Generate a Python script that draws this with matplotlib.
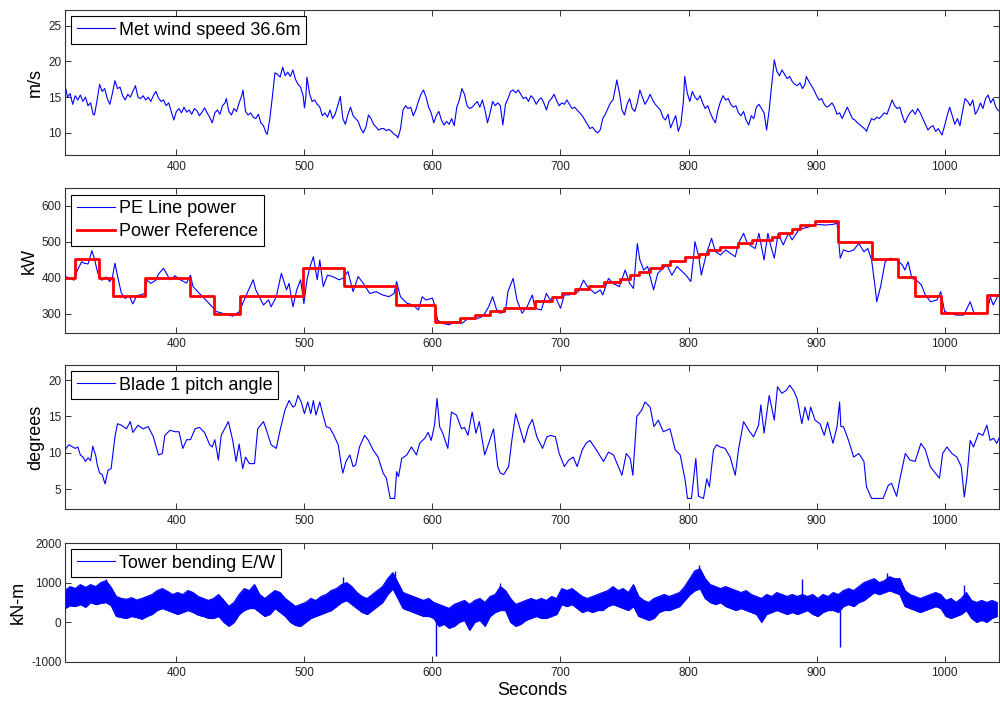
import numpy as np
import matplotlib
matplotlib.use('Agg')
from matplotlib import pyplot as plt

plt.rcParams['font.family'] = ['Liberation Sans', 'DejaVu Sans']
plt.rcParams['axes.unicode_minus'] = False

# Met wind speed at 36.6 m (m/s)
wind_t = [313, 315, 317, 319, 321, 323, 325, 327, 329, 331, 333, 335, 336, 338, 340, 342, 344, 346, 348, 350,
          352, 354, 356, 358, 360, 362, 364, 366, 368, 370, 372, 374, 376, 378, 380, 382, 384, 386, 388, 390,
          392, 394, 396, 398, 400, 402, 404, 406, 408, 410, 412, 414, 416, 418, 420, 422, 424, 426, 428, 430,
          432, 434, 436, 438, 439, 441, 443, 445, 447, 449, 451, 452, 454, 456, 458, 460, 462, 464, 466, 468,
          470, 471, 473, 475, 477, 479, 481, 483, 485, 487, 489, 491, 493, 495, 497, 499, 500, 501, 502, 504,
          506, 508, 510, 512, 514, 516, 518, 520, 522, 524, 526, 528, 530, 532, 534, 536, 538, 540, 542, 544,
          546, 548, 550, 552, 554, 556, 558, 560, 562, 564, 566, 568, 570, 572, 573, 575, 577, 579, 581, 583,
          585, 587, 589, 591, 593, 595, 597, 599, 601, 603, 605, 607, 609, 611, 613, 615, 617, 619, 621, 623,
          625, 627, 629, 631, 633, 635, 637, 639, 641, 643, 645, 647, 649, 651, 653, 655, 657, 659, 661, 663,
          665, 667, 669, 671, 673, 675, 677, 679, 681, 683, 685, 687, 689, 691, 693, 695, 697, 699, 701, 703,
          705, 707, 709, 711, 713, 715, 717, 719, 721, 723, 725, 727, 729, 731, 733, 735, 737, 739, 741, 743,
          744, 746, 748, 750, 752, 754, 756, 758, 760, 762, 764, 766, 768, 770, 772, 774, 776, 778, 780, 782,
          784, 786, 788, 790, 792, 794, 796, 797, 799, 801, 803, 805, 807, 809, 811, 813, 815, 817, 819, 821,
          823, 825, 827, 829, 831, 833, 835, 837, 839, 841, 843, 845, 847, 849, 851, 853, 855, 857, 859, 861,
          863, 865, 867, 869, 871, 873, 875, 877, 879, 881, 883, 885, 887, 889, 891, 892, 894, 896, 898, 900,
          902, 904, 906, 908, 910, 912, 914, 916, 918, 920, 922, 924, 926, 928, 930, 932, 934, 936, 938, 939,
          941, 943, 945, 947, 949, 951, 953, 955, 957, 959, 961, 963, 965, 967, 969, 971, 973, 975, 977, 979,
          981, 983, 985, 987, 989, 991, 993, 995, 997, 998, 1000, 1002, 1004, 1006, 1008, 1010, 1012, 1014, 1016, 1018,
          1020, 1022, 1024, 1026, 1028, 1030, 1032, 1034, 1036, 1038, 1040, 1042]
wind_v = [16.7, 15.0, 15.5, 14.0, 15.2, 14.6, 15.3, 14.4, 15.0, 13.8, 14.2, 12.6, 12.5, 14.5, 16.8, 15.8, 16.2, 14.8, 14.0, 15.5,
          17.3, 16.2, 16.4, 15.2, 14.6, 15.4, 15.0, 15.8, 16.6, 15.0, 14.8, 15.2, 14.6, 15.0, 14.4, 15.2, 15.8, 14.9, 14.4, 14.6,
          13.8, 14.2, 13.0, 11.8, 13.0, 13.4, 12.8, 13.6, 12.9, 13.2, 12.6, 13.4, 13.1, 12.4, 12.9, 13.5, 12.8, 12.2, 11.4, 12.8,
          13.2, 12.6, 13.8, 14.2, 14.8, 13.0, 12.5, 13.4, 13.0, 14.2, 15.2, 16.0, 13.0, 12.5, 12.8, 12.2, 12.0, 12.6, 11.4, 11.0,
          10.0, 9.8, 12.0, 15.1, 18.4, 18.2, 17.8, 19.2, 18.0, 18.5, 17.9, 18.8, 17.5, 16.8, 16.4, 15.2, 13.5, 14.8, 17.8, 15.5,
          14.4, 14.6, 14.0, 13.6, 12.4, 12.8, 12.2, 13.2, 12.0, 12.6, 13.8, 15.1, 12.0, 11.2, 12.6, 13.6, 12.4, 12.0, 11.6, 10.6,
          10.0, 10.8, 12.5, 12.0, 11.2, 10.8, 10.4, 10.6, 10.6, 10.3, 10.5, 10.2, 9.8, 9.6, 9.3, 10.5, 13.2, 13.8, 13.4, 13.6,
          12.4, 13.2, 14.4, 15.4, 16.0, 15.0, 13.6, 12.8, 11.4, 12.4, 13.0, 11.8, 11.1, 11.6, 11.2, 12.0, 11.0, 13.6, 14.6, 16.2,
          15.4, 13.8, 13.4, 13.6, 14.0, 14.4, 13.6, 14.6, 13.2, 11.4, 12.8, 14.4, 13.8, 14.2, 13.8, 11.1, 14.0, 14.8, 15.8, 16.0,
          15.6, 16.0, 15.4, 14.8, 15.0, 14.4, 15.2, 14.8, 14.0, 14.6, 14.9, 14.2, 13.2, 14.4, 14.8, 15.4, 14.5, 13.8, 14.2, 14.0,
          14.6, 14.0, 13.4, 13.6, 13.2, 12.8, 12.4, 11.8, 11.2, 10.6, 10.8, 10.3, 10.0, 10.4, 12.0, 12.6, 13.4, 14.2, 14.6, 16.4,
          17.4, 15.6, 13.2, 12.5, 14.0, 14.8, 13.4, 13.0, 14.2, 16.0, 15.0, 14.0, 14.6, 15.4, 14.6, 14.0, 13.6, 13.2, 12.2, 11.8,
          12.6, 10.7, 11.6, 12.4, 10.2, 11.2, 14.4, 17.9, 15.6, 14.4, 15.8, 15.0, 14.6, 15.2, 14.2, 13.4, 13.8, 12.8, 12.0, 11.4,
          13.2, 14.4, 15.2, 14.6, 14.8, 14.0, 13.6, 13.8, 12.8, 12.4, 13.0, 11.8, 11.1, 12.4, 12.0, 13.6, 14.0, 13.4, 12.8, 10.4,
          13.2, 16.8, 20.2, 18.6, 18.0, 18.8, 18.2, 17.6, 17.9, 17.2, 16.8, 16.6, 17.0, 16.2, 16.8, 17.9, 17.2, 16.6, 16.0, 15.2,
          14.6, 14.8, 14.0, 13.6, 13.8, 14.2, 13.6, 12.6, 12.8, 12.0, 12.8, 13.6, 12.8, 12.0, 11.8, 11.4, 11.1, 10.8, 10.5, 10.2,
          11.2, 12.0, 11.8, 12.2, 12.0, 12.4, 12.8, 12.6, 13.6, 14.6, 13.8, 13.4, 13.6, 12.4, 11.4, 12.2, 12.8, 13.2, 12.6, 13.4,
          12.8, 12.0, 11.2, 10.4, 10.8, 11.0, 10.2, 10.6, 10.0, 9.7, 11.0, 12.4, 13.6, 12.4, 11.2, 12.0, 11.0, 13.0, 14.8, 14.4,
          13.8, 14.6, 12.6, 13.2, 14.2, 13.4, 14.8, 15.3, 14.2, 14.8, 13.6, 13.1]

# PE line power (kW)
pe_t = [313, 316, 320, 322, 324, 326, 328, 331, 334, 336, 338, 340, 342, 345, 348, 350, 352, 354, 357, 360,
        363, 366, 369, 372, 375, 377, 380, 384, 386, 390, 393, 395, 399, 403, 408, 411, 413, 418, 423, 429,
        431, 436, 444, 449, 454, 460, 462, 468, 472, 474, 478, 482, 486, 488, 491, 494, 497, 499.6, 502, 504,
        507, 510, 512, 514.7, 518, 522, 527, 530, 534, 538, 542, 546, 551, 556, 561, 566, 570, 572, 575, 580,
        585, 589, 592, 595, 600, 602, 604, 608, 613, 618, 623, 628, 633, 638, 641, 644, 647, 650, 653, 657,
        659, 663, 666, 670, 674, 678, 680, 685, 689, 692, 696, 700, 703, 707, 710, 714, 718, 721, 727, 731,
        733, 737.5, 741, 746, 750.5, 754, 757, 760, 762, 765, 768, 772.7, 776, 780, 783, 787, 791, 795, 798, 801.8,
        804, 805, 808, 810, 814, 818, 821, 825, 829, 836.5, 839, 843, 846, 852, 855, 859, 862, 864, 867, 870,
        874, 878, 881, 886, 890, 895, 900, 907, 913, 916, 918.5, 921, 925, 929, 933, 937, 940, 943, 946, 947,
        950, 953.6, 957.6, 963, 967, 969, 971.5, 974.5, 978, 982, 984.9, 989, 994, 997, 1000, 1004, 1009, 1015, 1020, 1023,
        1028, 1033, 1035.7, 1038, 1042]
pe_v = [403, 400, 393, 415, 430, 444, 440, 438, 475, 452, 421, 398, 393, 402, 389, 400, 440, 405, 357, 342,
        350, 327, 350, 352, 356, 393, 384, 393, 410, 426, 407, 394, 405, 394, 385, 407, 375, 356, 338, 315,
        306, 301, 293, 305, 347, 394, 366, 324, 338, 319, 347, 412, 366, 384, 319, 366, 394, 328, 394, 426,
        458, 394, 449, 375, 407, 403, 394, 398, 417, 361, 403, 384, 356, 361, 352, 347, 356, 389, 347, 329,
        324, 310, 347, 338, 343, 320, 282, 273, 269, 278, 273, 287, 285, 290, 301, 320, 347, 312, 301, 306,
        362, 398, 338, 301, 320, 352, 315, 310, 356, 338, 347, 315, 352, 352, 356, 361, 393, 375, 356, 366,
        352, 398, 384, 375, 421, 384, 370, 495, 449, 421, 431, 366, 412, 426, 435, 407, 431, 417, 407, 389,
        458, 500, 458, 407, 467, 509, 472, 463, 477, 458, 495, 523, 495, 481, 523, 449, 523, 491, 454, 523,
        491, 523, 505, 532, 537, 542, 548, 546, 548, 551, 454, 477, 472, 477, 495, 472, 481, 449, 366, 333,
        375, 444, 454, 449, 435, 421, 444, 398, 393, 379, 352, 333, 338, 361, 306, 301, 296, 296, 333, 301,
        301, 301, 347, 324, 352]

# Power reference steps (start time of each step, level in kW)
ref_t = [313, 321, 339.7, 350.3, 375.5, 411, 429.6, 449.7, 498.6, 531, 571.4, 602.3, 621.3, 633, 645, 655.5,
         680, 693, 701, 711.5, 722, 733.6, 746.6, 754.4, 761, 770, 779, 785.7, 797.4, 807.8, 815.6, 824.7,
         839, 849.5, 865, 870.3, 880.7, 887.2, 899, 916.4, 943.2, 964, 977, 997, 1033, 1043]
ref_v = [400, 452, 400, 350, 400, 350, 300, 350, 426, 376, 325, 278, 287, 297, 306, 316,
         335, 345, 356, 368, 377, 387, 396, 406, 415, 426, 435, 447, 456, 466, 477, 486,
         497, 505, 514, 525, 535, 546, 556, 500, 452, 401, 350, 301, 352, 352]

# Blade 1 pitch angle (degrees)
pitch_t = [313, 316, 318, 321, 323, 325, 327, 329, 331, 333, 334.7, 337, 338, 340, 342, 344.3, 346.6, 349, 352, 354,
           357, 361, 364, 366, 370, 374, 378, 382, 386, 389, 391, 395, 399, 402, 405, 408, 411, 414.6, 418, 422,
           426, 428, 430, 432.8, 435, 440.6, 444, 446.6, 449, 451.8, 454, 457, 461, 463.5, 468, 470, 474, 478, 481, 484.8,
           488, 491, 492.7, 495, 497.5, 500, 502.6, 505, 507, 509, 512, 514.5, 517, 520, 523, 526.4, 529, 530, 532.5, 535.5,
           538, 540, 543, 547, 550, 553.6, 557.5, 561.5, 564, 567, 570.5, 572, 573.5, 576, 580, 583.6, 587.5, 590, 594, 596.7,
           599, 601.6, 603.6, 605.6, 608, 612, 614.8, 618.7, 622.7, 625, 627.7, 631, 634, 636.6, 640.8, 644.7, 647.7, 651, 653, 655.6,
           659.5, 662, 665, 668, 671.6, 675, 678, 681.5, 686, 689.4, 692.5, 696, 699, 703, 706.5, 710, 713, 717, 720, 723,
           728, 733.6, 737.5, 741.4, 748, 751.4, 754.5, 756.5, 759.6, 763.5, 766, 770, 773, 776.4, 780.3, 785.5, 789.6, 793.5, 797.4, 799.2,
           802.3, 805.7, 807.8, 811.7, 814.3, 816.3, 819.5, 822, 824.7, 828.6, 832.5, 836.5, 839, 843, 847, 850.8, 854.7, 856.5, 859, 863,
           867, 869.5, 872.9, 876.3, 879, 882, 884.9, 888.5, 891, 893.6, 895.4, 898.8, 902.7, 906, 908.6, 912.8, 916, 918, 919, 921,
           925, 929, 933, 937, 939, 943, 952, 956, 958.6, 962.5, 965, 969.3, 973, 977, 981.5, 985, 988.8, 992.7, 996, 998.5,
           1001.8, 1005.7, 1009.6, 1013, 1015.4, 1017.5, 1020, 1022.6, 1026.5, 1029.9, 1033, 1035.6, 1038.2, 1040.8, 1043]
pitch_v = [10.4, 11.1, 10.9, 10.6, 10.8, 9.7, 9.4, 8.8, 9.3, 8.9, 10.9, 9.6, 8.5, 7.2, 7.0, 5.7, 7.6, 7.8, 12.2, 14.0,
           13.8, 13.3, 14.3, 12.8, 13.8, 13.3, 13.6, 12.2, 9.7, 9.9, 12.4, 13.1, 12.9, 12.9, 10.6, 11.8, 11.8, 13.3, 13.5, 12.8,
           11.1, 10.8, 11.8, 9.0, 12.4, 14.3, 11.7, 8.8, 11.2, 7.8, 9.4, 8.5, 8.5, 13.3, 14.3, 13.3, 11.1, 10.6, 13.1, 15.9,
           17.2, 16.3, 16.5, 17.9, 17.0, 15.4, 17.0, 15.4, 17.2, 15.2, 17.0, 15.2, 13.6, 13.4, 12.4, 11.1, 8.1, 7.2, 8.8, 9.7,
           8.1, 8.3, 10.8, 12.4, 11.7, 10.4, 9.4, 7.2, 6.5, 3.7, 3.7, 7.4, 6.7, 9.2, 9.7, 10.8, 9.7, 11.3, 12.0, 12.8,
           11.7, 13.8, 17.5, 13.6, 12.7, 10.6, 15.6, 15.2, 13.3, 13.5, 12.4, 15.6, 12.7, 14.3, 9.7, 11.7, 13.3, 8.1, 7.2, 7.0,
           8.1, 11.7, 15.4, 13.6, 11.4, 13.6, 14.6, 12.2, 10.6, 12.2, 12.4, 12.2, 9.9, 8.1, 9.0, 9.4, 8.1, 10.4, 11.3, 11.7,
           10.4, 8.8, 10.1, 9.7, 6.9, 9.9, 9.2, 6.9, 15.0, 15.9, 17.0, 16.3, 13.6, 14.5, 12.9, 13.3, 10.4, 9.7, 6.2, 3.7,
           3.7, 9.2, 4.0, 3.7, 6.4, 5.3, 10.4, 11.1, 10.8, 10.6, 9.4, 6.9, 10.4, 14.3, 13.1, 12.2, 13.8, 16.6, 12.7, 17.9,
           14.5, 19.1, 18.2, 18.6, 19.3, 18.6, 17.4, 14.0, 16.3, 14.5, 16.3, 14.5, 14.0, 12.4, 14.2, 11.3, 13.6, 17.0, 13.6, 13.6,
           11.7, 9.4, 9.9, 8.8, 5.3, 3.7, 3.7, 5.5, 5.8, 4.0, 6.3, 9.9, 9.0, 8.8, 11.3, 10.4, 8.1, 7.2, 6.5, 9.9,
           10.8, 9.9, 9.4, 8.1, 3.9, 6.7, 11.7, 10.8, 12.7, 12.4, 13.8, 11.7, 12.0, 11.3, 12.2]

# Tower bending E/W (kN-m): upper and lower edge of the noisy band, every 4 s from 313 s
tower_hi = [800, 900, 850, 950, 880, 950, 900, 1000, 1050, 880, 650, 600, 580, 620, 560, 600, 650, 700, 800, 850,
            780, 700, 750, 700, 800, 750, 650, 600, 550, 600, 700, 550, 400, 500, 700, 850, 800, 950, 700, 600,
            700, 800, 750, 600, 500, 400, 450, 500, 600, 550, 650, 700, 800, 850, 950, 1000, 900, 750, 650, 600,
            700, 800, 900, 1100, 1250, 1000, 750, 700, 650, 600, 550, 600, 500, 450, 400, 350, 450, 500, 550, 450,
            550, 600, 500, 650, 700, 900, 800, 600, 450, 500, 550, 600, 550, 600, 550, 650, 600, 850, 800, 850,
            750, 650, 600, 650, 700, 750, 800, 900, 800, 850, 750, 950, 650, 550, 500, 600, 650, 700, 650, 700,
            750, 900, 1100, 1300, 1350, 1100, 950, 900, 850, 900, 850, 800, 750, 800, 700, 650, 600, 700, 650, 750,
            700, 650, 700, 650, 700, 650, 700, 600, 700, 650, 750, 700, 800, 850, 800, 900, 1000, 1050, 1100, 1000,
            1050, 1150, 1100, 1100, 800, 700, 650, 600, 650, 700, 750, 700, 550, 600, 500, 600, 750, 550, 500, 550,
            500, 550, 500]
tower_lo = [350, 420, 400, 450, 380, 500, 450, 480, 500, 420, 150, 120, 100, 150, 120, 80, 150, 200, 300, 350,
            300, 250, 200, 250, 300, 250, 180, 150, 100, 100, 150, 0, -100, 0, 200, 300, 350, 350, 250, 150,
            200, 350, 250, 150, 0, -80, -100, 0, 100, 150, 200, 250, 300, 400, 500, 550, 450, 350, 250, 200,
            300, 400, 500, 700, 850, 600, 350, 300, 250, 200, 150, 150, 100, -100, -50, -150, -100, 0, 50, -200,
            0, 50, -100, 150, 250, 300, 300, 0, -100, -50, 50, 100, 150, 100, 100, 150, 200, 450, 400, 450,
            350, 250, 300, 250, 300, 300, 400, 450, 400, 350, 300, 400, 150, 100, 50, 100, 250, 300, 300, 350,
            400, 550, 700, 800, 850, 600, 500, 450, 500, 400, 350, 300, 350, 300, 250, 200, 0, 200, 250, 300,
            250, 200, 250, 200, 250, 300, 200, 150, 250, 300, 300, 250, 400, 450, 400, 500, 550, 650, 750, 700,
            750, 800, 750, 700, 400, 350, 300, 250, 300, 350, 400, 350, 150, 100, 150, 200, 300, 100, 0, 50,
            0, 100, 150]
# isolated spikes: time, band level, spike tip
spike_t = [345, 530, 571, 603, 653, 808, 889, 918, 955, 1015]
spike_base = [700, 700, 1000, 200, 500, 1000, 400, 300, 900, 300]
spike_tip = [1080, 1150, 1300, -850, 1000, 1450, 1100, -640, 1250, 950]

xmin, xmax = 313, 1042.5
blue = '#0000ff'
red = '#ff0000'
edge = '#333333'

fig = plt.figure(figsize=(10, 7.03), dpi=100)
positions = [[0.065, 0.7795, 0.934, 0.2063],
             [0.065, 0.5267, 0.934, 0.2054],
             [0.065, 0.2755, 0.934, 0.2053],
             [0.065, 0.0587, 0.934, 0.1688]]
axes = [fig.add_axes(p) for p in positions]


def style(ax, ylim, yticks, ylabel):
    ax.set_xlim(xmin, xmax)
    ax.set_ylim(*ylim)
    ax.set_xticks([400, 500, 600, 700, 800, 900, 1000])
    ax.set_yticks(yticks)
    ax.tick_params(direction='in', top=True, right=True, length=4, width=0.7,
                   colors=edge, labelcolor='#222222', labelsize=8.5)
    ax.tick_params(axis='x', pad=4)
    ax.tick_params(axis='y', pad=2.5)
    for s in ax.spines.values():
        s.set_color(edge)
        s.set_linewidth(0.8)
    ax.set_ylabel(ylabel, fontsize=13, labelpad=3)


def legend(ax):
    leg = ax.legend(loc='upper left', fontsize=13, fancybox=False, framealpha=1,
                    edgecolor='black', borderpad=0.3, borderaxespad=0.35,
                    handlelength=2.1, handletextpad=0.25, labelspacing=0.35)
    leg.get_frame().set_linewidth(0.8)


ax = axes[0]
ax.plot(wind_t, wind_v, color=blue, lw=0.8, label='Met wind speed 36.6m')
style(ax, (6.9, 27.2), [10, 15, 20, 25], 'm/s')
legend(ax)

ax = axes[1]
ax.plot(pe_t, pe_v, color=blue, lw=0.8, label='PE Line power')
ax.step(ref_t, ref_v, where='post', color=red, lw=2.0, label='Power Reference')
style(ax, (247, 648), [300, 400, 500, 600], 'kW')
legend(ax)

ax = axes[2]
ax.plot(pitch_t, pitch_v, color=blue, lw=0.8, label='Blade 1 pitch angle')
style(ax, (2.2, 22.1), [5, 10, 15, 20], 'degrees')
legend(ax)

ax = axes[3]
tower_t = np.arange(313, 313 + 4 * len(tower_hi), 4)
ax.fill_between(tower_t, tower_lo, tower_hi, color=blue, lw=0.5, edgecolor=blue)
ax.plot(tower_t, tower_hi, color=blue, lw=0.8, label='Tower bending E/W')
ax.plot(tower_t, tower_lo, color=blue, lw=0.8)
ax.vlines(spike_t, spike_base, spike_tip, color=blue, lw=1.0)
style(ax, (-1000, 2000), [-1000, 0, 1000, 2000], 'kN-m')
ax.set_xlabel('Seconds', fontsize=13, labelpad=2)
legend(ax)

fig.savefig('out.png', dpi=100)
plt.close(fig)
